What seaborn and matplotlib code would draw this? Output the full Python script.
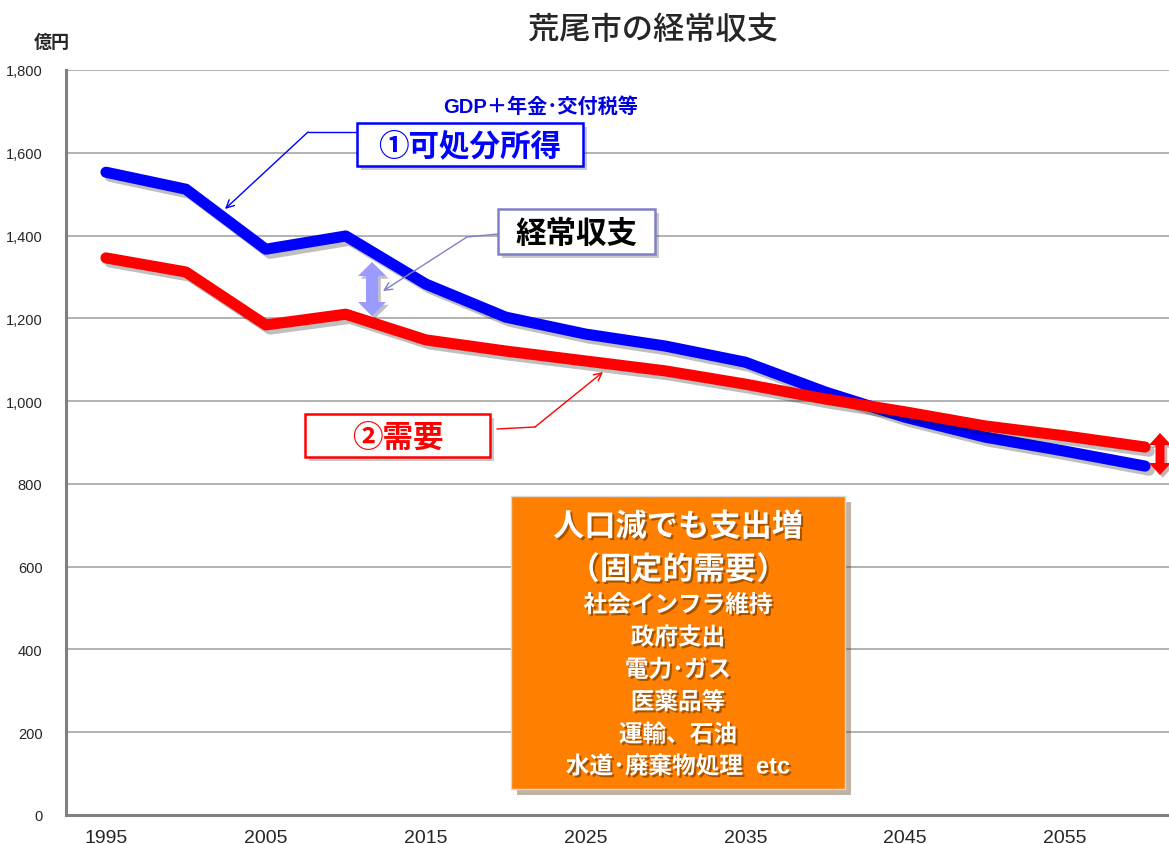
import matplotlib
matplotlib.use("Agg")
import matplotlib.pyplot as plt
import matplotlib.patheffects as pe
from matplotlib.patches import Rectangle, Polygon
from matplotlib.lines import Line2D
from matplotlib.transforms import Affine2D
import seaborn as sns
import pandas as pd

# data (億円)
years = [1995, 2000, 2005, 2010, 2015, 2020, 2025, 2030, 2035, 2040, 2045, 2050, 2055, 2060]
income = [1553, 1512, 1367, 1399, 1283, 1203, 1162, 1133, 1094, 1022, 961, 913, 879, 843]
demand = [1346, 1312, 1184, 1210, 1148, 1121, 1097, 1073, 1041, 1005, 974, 940, 916, 889]
label_years = [1995, 2005, 2015, 2025, 2035, 2045, 2055]
yticks = [0, 200, 400, 600, 800, 1000, 1200, 1400, 1600, 1800]

box_lines = ["社会インフラ維持", "政府支出", "電力･ガス", "医薬品等", "運輸、石油", "水道･廃棄物処理  etc"]

sns.set_style("white")
plt.rcParams["font.family"] = ["Liberation Sans", "Noto Sans CJK JP", "DejaVu Sans"]
JP = ["Noto Sans CJK JP", "DejaVu Sans"]

W, H = 1169, 845
fig = plt.figure(figsize=(W / 100, H / 100), dpi=100)
# plot area runs past the right edge like the cropped original
ax = fig.add_axes([66 / W, 1 - 816 / H, (1185 - 66) / W, (816 - 71) / H])

df = pd.DataFrame({
    "year": years * 2,
    "value": income + demand,
    "series": ["income"] * len(years) + ["demand"] * len(years),
})
sns.lineplot(data=df, x="year", y="value", hue="series",
             palette=["#0000ff", "#ff0000"], linewidth=8, legend=False, ax=ax)
for ln in ax.lines:
    ln.set_solid_capstyle("round")
    ln.set_solid_joinstyle("round")
    ln.set_path_effects([pe.SimpleLineShadow(offset=(3, -3), alpha=0.25), pe.Normal()])

ax.set_xlim(1992.5, 2062.5)
ax.set_ylim(0, 1800)
ax.set_yticks(yticks)
ax.set_yticklabels([f"{v:,}" for v in yticks], fontsize=10.5)
ax.set_xticks(label_years)
ax.set_xticklabels([str(y) for y in label_years], fontsize=14)
ax.set_xticks([1992.5 + 5 * i for i in range(15)], minor=True)
ax.tick_params(axis="x", which="major", length=0, pad=10)
ax.tick_params(axis="x", which="minor", length=6, width=2, color="#808080", direction="out")
ax.tick_params(axis="y", length=5, width=2, color="#808080", direction="out", pad=12)
ax.set_xlabel("")
ax.set_ylabel("")
ax.yaxis.grid(True, color="#a6a6a6", linewidth=1.2)
ax.set_axisbelow(True)
for s in ["top", "right"]:
    ax.spines[s].set_visible(False)
for s in ["left", "bottom"]:
    ax.spines[s].set_color("#808080")
    ax.spines[s].set_linewidth(2.2)

# image-pixel coordinates (origin top-left) for the annotations
T = Affine2D().scale(1 / W, -1 / H).translate(0, 1) + fig.transFigure

fig.text(653, 30, "荒尾市の経常収支", transform=T, ha="center", va="center",
         fontsize=22.5, fontweight="medium", family=JP)
fig.text(52, 42, "億円", transform=T, ha="center", va="center",
         fontsize=13, fontweight="bold", family=JP)

fig.text(541, 107, "GDP＋年金･交付税等", transform=T, ha="center", va="center",
         fontsize=14.5, fontweight="bold", color="#0000dd",
         family=["Liberation Sans", "Noto Sans CJK JP"])


def label_box(x0, x1, y0, y1, text, tcolor, ecolor, size=22):
    r = Rectangle((x0, y1), x1 - x0, y0 - y1, transform=T, facecolor="white",
                  edgecolor=ecolor, linewidth=1.8, zorder=5)
    r.set_path_effects([pe.SimplePatchShadow(offset=(3, -3), alpha=0.3), pe.Normal()])
    fig.add_artist(r)
    fig.text((x0 + x1) / 2, (y0 + y1) / 2 + 1, text, transform=T, ha="center",
             va="center", fontsize=size, fontweight="bold", color=tcolor,
             family=JP, zorder=6)


def leader(pts, color, lw=1.0):
    xs = [p[0] for p in pts[:-1]]
    ys = [p[1] for p in pts[:-1]]
    fig.add_artist(Line2D(xs, ys, transform=T, color=color, linewidth=lw, zorder=4))
    ax.annotate("", xy=pts[-1], xytext=pts[-2], xycoords=T, textcoords=T,
                arrowprops=dict(arrowstyle="->", color=color, lw=lw,
                                shrinkA=0, shrinkB=0, mutation_scale=14), zorder=4)


def double_arrow(cx, top, bot, shaft, head, hl, color):
    pts = [(cx, top), (cx + head / 2, top + hl), (cx + shaft / 2, top + hl),
           (cx + shaft / 2, bot - hl), (cx + head / 2, bot - hl), (cx, bot),
           (cx - head / 2, bot - hl), (cx - shaft / 2, bot - hl),
           (cx - shaft / 2, top + hl), (cx - head / 2, top + hl)]
    p = Polygon(pts, closed=True, transform=T, facecolor=color, edgecolor="none", zorder=5)
    p.set_path_effects([pe.SimplePatchShadow(offset=(2, -2), alpha=0.3), pe.Normal()])
    fig.add_artist(p)


leader([(357, 133), (308, 133), (225, 210)], "#0000ff")
label_box(357, 583, 124, 167, "①可処分所得", "#0000ff", "#0000ff")

leader([(498, 235), (467, 238), (383, 292)], "#8080c8")
label_box(498, 655, 210, 255, "経常収支", "black", "#8080c8")

leader([(497, 430), (535, 428), (603, 373)], "#ff0000")
label_box(305, 490, 415, 458, "②需要", "#ff0000", "#ff0000")

double_arrow(372, 263, 317, 12, 28, 14, "#9a9aff")
double_arrow(1160, 434, 476, 9, 22, 12, "#ff0000")

# orange box
ob = Rectangle((511, 790), 845 - 511, 497 - 790, transform=T, facecolor="#ff8000",
               edgecolor="#d9d9d9", linewidth=1.0, zorder=5)
ob.set_path_effects([pe.SimplePatchShadow(offset=(4, -4), alpha=0.35), pe.Normal()])
fig.add_artist(ob)
txt_fx = [pe.withSimplePatchShadow(offset=(1.5, -1.5), shadow_rgbFace="#6b3500", alpha=0.6)]
fig.text(678, 528, "人口減でも支出増", transform=T, ha="center", va="center",
         fontsize=22.5, fontweight="bold", color="white", family=JP, zorder=6,
         path_effects=txt_fx)
fig.text(678, 571, "（固定的需要）", transform=T, ha="center", va="center",
         fontsize=22.5, fontweight="bold", color="white", family=JP, zorder=6,
         path_effects=txt_fx)
for i, s in enumerate(box_lines):
    fig.text(678, 606 + i * 32.4, s, transform=T, ha="center", va="center",
             fontsize=17, fontweight="bold", color="white",
             family=["Liberation Sans", "Noto Sans CJK JP"] if "etc" in s else JP,
             zorder=6, path_effects=txt_fx)

fig.savefig("out.png", dpi=100)
